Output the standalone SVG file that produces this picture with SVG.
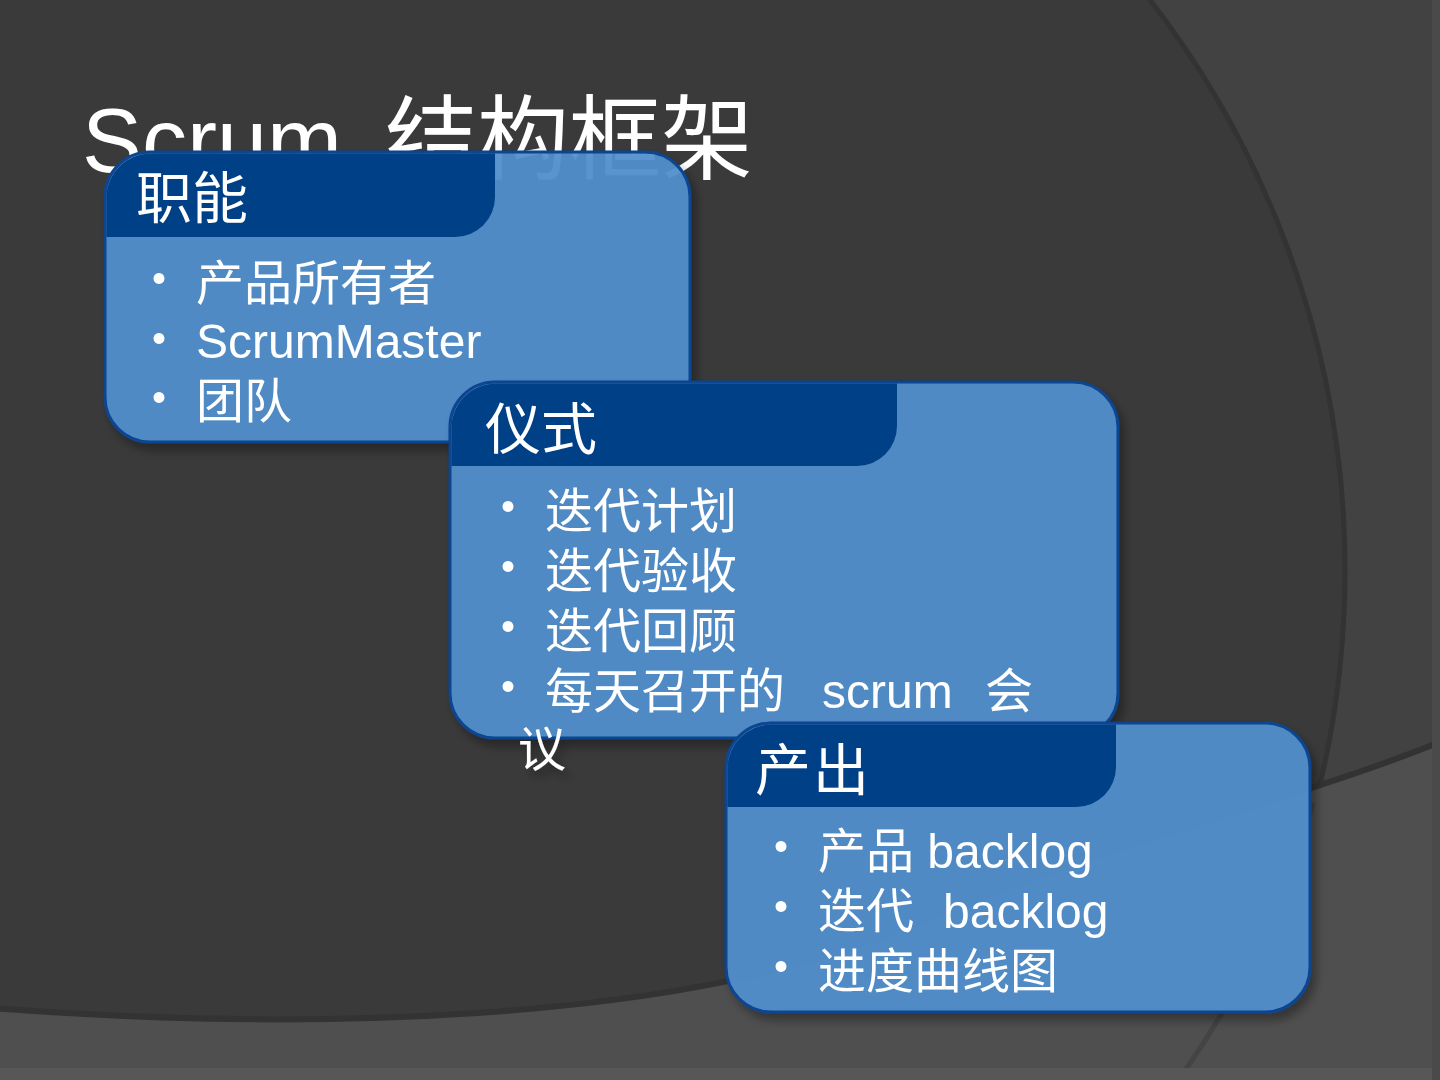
<svg xmlns="http://www.w3.org/2000/svg" width="1440" height="1080" viewBox="0 0 1440 1080">
<defs>
<style>
.body{fill:#5290ce;fill-opacity:0.93;stroke:#0b4590;stroke-width:3}
.head{fill:#023f86}
.t{font-family:"Liberation Sans","Noto Sans CJK SC",sans-serif;fill:#ffffff}
.h{font-size:56px}
.i{font-size:48px}
.b{font-size:40px}
</style>
<filter id="sh" x="-10%" y="-10%" width="130%" height="130%">
<feDropShadow dx="5" dy="7" stdDeviation="5" flood-color="#000" flood-opacity="0.35"/>
</filter>
</defs>
<g id="background">
<rect x="0" y="0" width="1440" height="1080" fill="#424242"/>
<circle cx="415" cy="570" r="930" fill="#3a3a3a" stroke="#333333" stroke-width="5"/>
<path d="M-10,1008 C350,1035 700,1015 900,930 S1300,800 1450,738 L1450,1090 L-10,1090 Z" fill="#4f4f4f" stroke="#333333" stroke-width="6"/>
<path d="M1313,803 A930,930 0 0 1 1175,1085" fill="none" stroke="#444444" stroke-width="5"/>
<rect x="0" y="1068" width="1440" height="12" fill="#575757"/>
<rect x="1432" y="0" width="8" height="1080" fill="#4a4a4a"/>
</g>
<text id="title" class="t" x="82" y="172"><tspan font-size="90">Scrum</tspan><tspan x="385" font-size="92">结构框架</tspan></text>
<g id="node-roles" filter="url(#sh)">
<rect class="body" x="105" y="152" width="585" height="290" rx="45"/>
<path class="head" d="M106.5,197 A44,44 0 0 1 150,153.5 L495,153.5 L495,197 A40,40 0 0 1 455,237 L106.5,237 Z"/>
<text class="t h" x="136" y="218">职能</text>
<text class="t b" x="152" y="292">•</text>
<text class="t i" x="196" y="300">产品所有者</text>
<text class="t b" x="152" y="352">•</text>
<text class="t i" x="196" y="358">ScrumMaster</text>
<text class="t b" x="152" y="411">•</text>
<text class="t i" x="196" y="418">团队</text>
</g>
<g id="node-ceremonies" filter="url(#sh)">
<rect class="body" x="450" y="382" width="668" height="356" rx="45"/>
<path class="head" d="M451.5,427 A44,44 0 0 1 495,383.5 L897,383.5 L897,426 A40,40 0 0 1 857,466 L451.5,466 Z"/>
<text class="t h" x="485" y="449">仪式</text>
<text class="t b" x="501" y="520">•</text>
<text class="t i" x="545" y="528">迭代计划</text>
<text class="t b" x="501" y="580">•</text>
<text class="t i" x="545" y="588">迭代验收</text>
<text class="t b" x="501" y="640">•</text>
<text class="t i" x="545" y="648">迭代回顾</text>
<text class="t b" x="501" y="700">•</text>
<text class="t i" x="545" y="708">每天召开的<tspan x="822">scrum</tspan><tspan x="985">会</tspan></text>
<text class="t i" x="518" y="766">议</text>
</g>
<g id="node-artifacts" filter="url(#sh)">
<rect class="body" x="726" y="723" width="584" height="289" rx="45"/>
<path class="head" d="M727.5,768 A44,44 0 0 1 771,724.5 L1116,724.5 L1116,767 A40,40 0 0 1 1076,807 L727.5,807 Z"/>
<text class="t h" x="755" y="790" letter-spacing="2">产出</text>
<text class="t b" x="774" y="860">•</text>
<text class="t i" x="818" y="868">产品 backlog</text>
<text class="t b" x="774" y="920">•</text>
<text class="t i" x="818" y="928">迭代<tspan x="943">backlog</tspan></text>
<text class="t b" x="774" y="980">•</text>
<text class="t i" x="818" y="988">进度曲线图</text>
</g>
<g id="connectors"/>
</svg>
